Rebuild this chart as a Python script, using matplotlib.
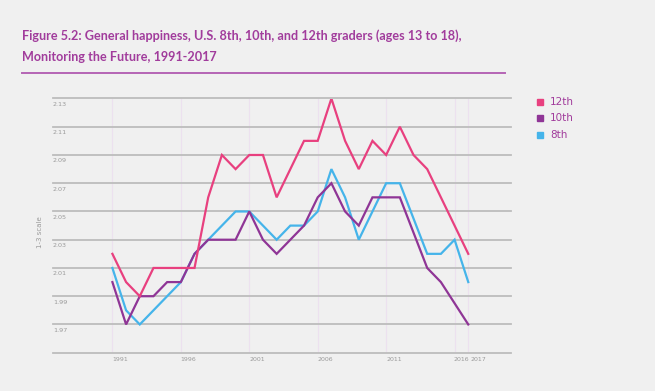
import matplotlib.pyplot as plt
import matplotlib.transforms as mtransforms

years = list(range(1991, 2018))

grade12 = [2.02, 2.00, 1.99, 2.01, 2.01, 2.01, 2.01, 2.06, 2.09, 2.08,
           2.09, 2.09, 2.06, 2.08, 2.10, 2.10, 2.13, 2.10, 2.08, 2.10,
           2.09, 2.11, 2.09, 2.08, 2.06, 2.04, 2.02]
grade10 = [2.00, 1.97, 1.99, 1.99, 2.00, 2.00, 2.02, 2.03, 2.03, 2.03,
           2.05, 2.03, 2.02, 2.03, 2.04, 2.06, 2.07, 2.05, 2.04, 2.06,
           2.06, 2.06, 2.035, 2.01, 2.00, 1.985, 1.97]
grade8 = [2.01, 1.98, 1.97, 1.98, 1.99, 2.00, 2.02, 2.03, 2.04, 2.05,
          2.05, 2.04, 2.03, 2.04, 2.04, 2.05, 2.08, 2.06, 2.03, 2.05,
          2.07, 2.07, 2.045, 2.02, 2.02, 2.03, 2.00]

xticks = [1991, 1996, 2001, 2006, 2011, 2016, 2017]
yticks = [1.97, 1.99, 2.01, 2.03, 2.05, 2.07, 2.09, 2.11, 2.13]
gridlines = [1.95] + yticks

labels = ['12th', '10th', '8th']
colors = ['#e8407f', '#8f3596', '#45b4ea']

bg = '#f0f0f0'
title_col = '#a13c9c'
grey = '#9a9a9a'

fig = plt.figure(figsize=(6.55, 3.91), dpi=100, facecolor=bg)
ax = fig.add_axes([53/655, 1-352.7/391, (510.7-53)/655, (352.7-98.5)/391])
ax.set_facecolor(bg)

# grille
for g in gridlines:
    ax.axhline(g, color='#bdbdbd', lw=1.3, zorder=1, clip_on=False)
for t in xticks:
    ax.axvline(t, color='#ece1ef', lw=0.9, zorder=0)

for vals, c in zip([grade12, grade10, grade8][::-1], colors[::-1]):
    ax.plot(years, vals, color=c, lw=1.6, zorder=3, solid_joinstyle='miter')

ax.set_xlim(1986.66, 2020.1)
ax.set_ylim(1.95, 2.13)
for s in ax.spines.values():
    s.set_visible(False)
ax.set_xticks([])
ax.set_yticks([])

# années sous l'axe, alignées à gauche sur chaque ligne verticale
xtrans = mtransforms.blended_transform_factory(ax.transData, ax.transAxes)
for t in xticks:
    dx = -1.5 if t == 2016 else (2.5 if t == 2017 else 0)
    off = mtransforms.ScaledTranslation(dx/100, -4/100, fig.dpi_scale_trans)
    ax.text(t, 0, str(t), transform=xtrans + off, ha='left', va='top',
            fontsize=4.5, color=grey)

# labels de l'axe y dans le graphe, sous chaque ligne
trans = mtransforms.blended_transform_factory(ax.transAxes, ax.transData)
off = mtransforms.ScaledTranslation(0, -2.5/72, fig.dpi_scale_trans)
for y in yticks:
    ax.text(0, y, '%.2f' % y, transform=trans + off, ha='left', va='top',
            fontsize=4.6, color=grey)

fig.text(40/655, 1-232/391, '1-3 scale', rotation=90, ha='center', va='center',
         fontsize=5, color=grey)

# titre
fig.text(22/655, 1-36/391, 'Figure 5.2: General happiness, U.S. 8th, 10th, and 12th graders (ages 13 to 18),',
         fontsize=9.1, fontweight='bold', color=title_col, ha='left', va='center',
         family='Lato')
fig.text(22/655, 1-57/391, 'Monitoring the Future, 1991-2017',
         fontsize=9.1, fontweight='bold', color=title_col, ha='left', va='center',
         family='Lato')
fig.add_artist(plt.Line2D([22/655, 505/655], [1-73/391, 1-73/391],
                          color='#b565b5', lw=1.4, transform=fig.transFigure))

# légende
for i, (lab, c) in enumerate(zip(labels, colors)):
    y = 1 - (101.7 + 16.5*i)/391
    fig.add_artist(plt.Line2D([540/655], [y], marker='s', markersize=4.5,
                              color=c, lw=0, transform=fig.transFigure))
    fig.text(550/655, y, lab, fontsize=7.5, color=title_col, ha='left', va='center')

fig.savefig('out.png', dpi=100, facecolor=bg)
